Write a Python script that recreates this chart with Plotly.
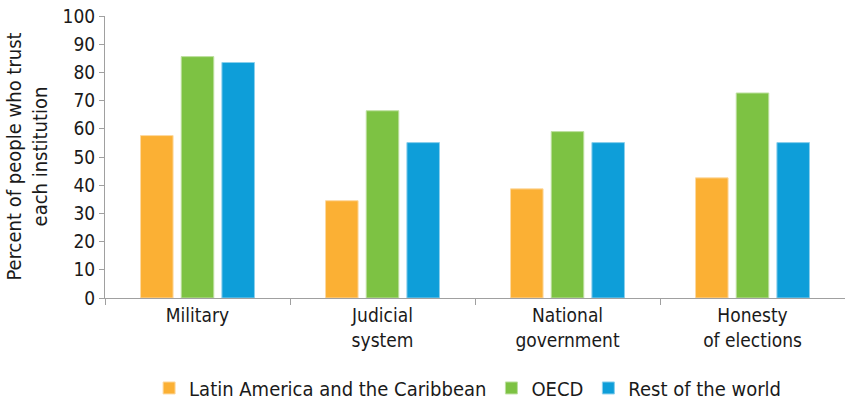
import plotly.graph_objects as go

categories = ["Military", "Judicial<br>system", "National<br>government", "Honesty<br>of elections"]
series_names = ["Latin America and the Caribbean", "OECD", "Rest of the world"]
latam = [57.6, 34.5, 38.7, 42.6]
oecd = [85.6, 66.4, 59.0, 72.7]
rest = [83.5, 55.1, 55.1, 55.1]
colors = ["#FBB034", "#7DC243", "#0E9ED9"]
line_colors = ["#FDD9A0", "#BEE0A0", "#8ACFEC"]
y_ticks = [0, 10, 20, 30, 40, 50, 60, 70, 80, 90, 100]
y_title = "Percent of people who trust<br>each institution"

FONT = "Liberation Sans Narrow, Arial Narrow, DejaVu Sans Condensed, sans-serif"

fig = go.Figure()
for name, vals, c, lc in zip(series_names, [latam, oecd, rest], colors, line_colors):
    fig.add_trace(go.Bar(x=categories, y=vals, name=name,
                         marker=dict(color=c, line=dict(color=lc, width=1))))

fig.add_annotation(text=y_title, xref="paper", yref="paper", x=-0.106, y=0.5,
                   xanchor="center", yanchor="middle", textangle=-90, showarrow=False,
                   font=dict(size=20))

fig.update_layout(
    width=845, height=402,
    margin=dict(l=105, r=0, t=16, b=104, autoexpand=False),
    paper_bgcolor="white", plot_bgcolor="white",
    font=dict(family=FONT, size=19, color="#1a1a1a"),
    barmode="group", bargap=0.34, bargroupgap=0.20,
    showlegend=True,
    legend=dict(orientation="h", x=0.49, xanchor="center", y=-0.319, yanchor="middle",
                font=dict(size=20), itemwidth=30, traceorder="normal"),
    xaxis=dict(showline=True, linecolor="#A0A0A0", linewidth=1, automargin=False,
               ticks="outside", tickson="boundaries", ticklen=6, tickcolor="#A0A0A0",
               showgrid=False, tickfont=dict(size=19)),
    yaxis=dict(range=[0, 100], tickvals=y_ticks, showline=True, linecolor="#A0A0A0",
               linewidth=1, ticks="outside", ticklen=5, tickcolor="#A0A0A0", automargin=False,
               showgrid=False, zeroline=False, tickfont=dict(size=19),
               ticklabeloverflow="allow"),
)

# remove the browser's default 8px body margin so the figure fills the window exactly
fig.write_html("out.html", config={"displayModeBar": False},
               post_script="document.body.style.margin='0';document.body.style.overflow='hidden';")
